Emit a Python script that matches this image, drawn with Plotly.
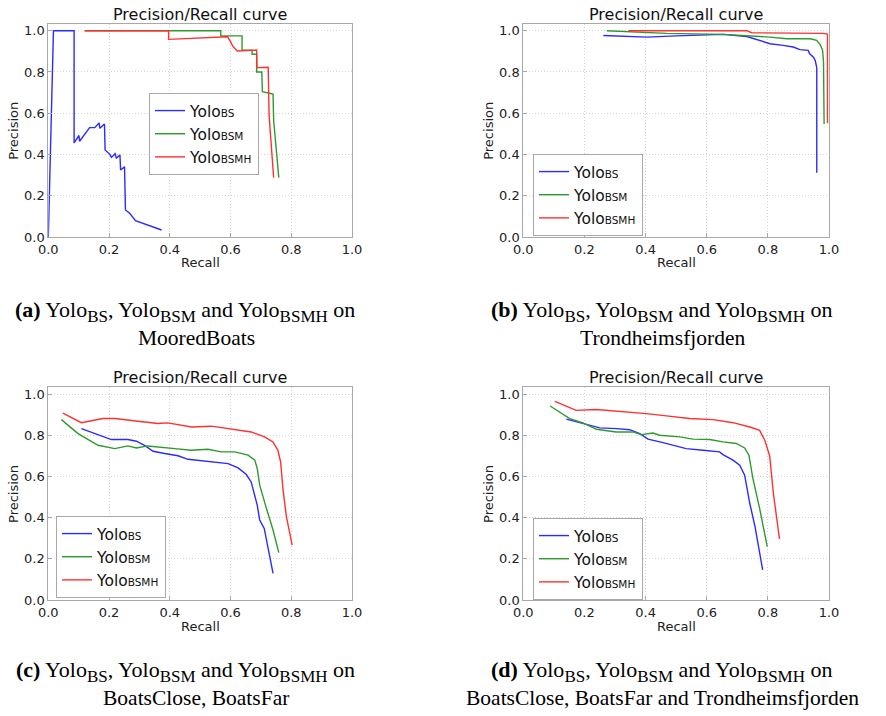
import plotly.graph_objects as go

# ---------------- data ----------------
series_names = ["BS", "BSM", "BSMH"]
colors = ["#2b2bff", "#2e9a2e", "#ff3030"]

# (a) MooredBoats
a_bs_r = [0.0, 0.017, 0.085, 0.085, 0.101, 0.103, 0.136, 0.153, 0.167, 0.170, 0.185, 0.187, 0.202, 0.208,
          0.220, 0.224, 0.236, 0.238, 0.251, 0.254, 0.268, 0.287, 0.373]
a_bs_p = [0.0, 1.0, 1.0, 0.456, 0.492, 0.464, 0.530, 0.530, 0.553, 0.527, 0.548, 0.422, 0.402, 0.386,
          0.404, 0.383, 0.397, 0.325, 0.340, 0.131, 0.115, 0.079, 0.034]
a_bsm_r = [0.12, 0.568, 0.568, 0.638, 0.638, 0.671, 0.671, 0.686, 0.686, 0.703, 0.705, 0.740, 0.742, 0.759]
a_bsm_p = [1.0, 1.0, 0.975, 0.975, 0.905, 0.905, 0.886, 0.886, 0.800, 0.800, 0.704, 0.693, 0.565, 0.288]
a_bsmh_r = [0.12, 0.396, 0.396, 0.590, 0.600, 0.607, 0.622, 0.686, 0.687, 0.724, 0.727, 0.742]
a_bsmh_p = [1.0, 1.0, 0.958, 0.971, 0.947, 0.926, 0.902, 0.906, 0.821, 0.823, 0.590, 0.287]

# (b) Trondheimsfjorden
b_bs_r = [0.262, 0.404, 0.500, 0.654, 0.731, 0.774, 0.807, 0.850, 0.883, 0.905, 0.932, 0.936, 0.949,
          0.955, 0.958, 0.960, 0.960]
b_bs_p = [0.977, 0.969, 0.975, 0.982, 0.972, 0.953, 0.937, 0.929, 0.921, 0.908, 0.905, 0.889, 0.872,
          0.855, 0.840, 0.820, 0.312]
b_bsm_r = [0.273, 0.400, 0.469, 0.654, 0.731, 0.807, 0.862, 0.938, 0.960, 0.972, 0.979, 0.982, 0.984]
b_bsm_p = [1.0, 0.993, 0.987, 0.982, 0.977, 0.969, 0.961, 0.961, 0.953, 0.930, 0.905, 0.850, 0.548]
b_bsmh_r = [0.344, 0.731, 0.747, 0.971, 0.981, 0.995, 0.995]
b_bsmh_p = [1.0, 1.0, 0.990, 0.990, 0.987, 0.984, 0.551]

# (c) BoatsClose, BoatsFar
c_bs_r = [0.109, 0.164, 0.208, 0.262, 0.290, 0.317, 0.345, 0.383, 0.427, 0.460, 0.493, 0.537, 0.592,
          0.625, 0.652, 0.668, 0.680, 0.688, 0.696, 0.711, 0.740]
c_bs_p = [0.833, 0.804, 0.780, 0.780, 0.772, 0.752, 0.723, 0.712, 0.701, 0.684, 0.679, 0.675, 0.663,
          0.642, 0.610, 0.574, 0.510, 0.461, 0.389, 0.348, 0.130]
c_bsm_r = [0.043, 0.098, 0.164, 0.219, 0.262, 0.290, 0.328, 0.361, 0.416, 0.471, 0.525, 0.570, 0.614,
           0.658, 0.680, 0.688, 0.696, 0.715, 0.740, 0.759]
c_bsm_p = [0.877, 0.809, 0.752, 0.736, 0.749, 0.739, 0.749, 0.743, 0.736, 0.728, 0.733, 0.720, 0.720,
           0.704, 0.680, 0.639, 0.558, 0.461, 0.340, 0.230]
c_bsmh_r = [0.048, 0.109, 0.180, 0.219, 0.295, 0.361, 0.394, 0.471, 0.537, 0.603, 0.668, 0.712, 0.740,
            0.756, 0.765, 0.773, 0.784, 0.803]
c_bsmh_p = [0.909, 0.862, 0.882, 0.882, 0.869, 0.858, 0.861, 0.841, 0.845, 0.830, 0.817, 0.793, 0.768,
            0.728, 0.671, 0.535, 0.405, 0.267]

# (d) BoatsClose, BoatsFar and Trondheimsfjorden
d_bs_r = [0.141, 0.195, 0.250, 0.304, 0.348, 0.381, 0.408, 0.457, 0.490, 0.533, 0.588, 0.642, 0.653,
          0.686, 0.708, 0.724, 0.741, 0.758, 0.783]
d_bs_p = [0.879, 0.858, 0.837, 0.833, 0.828, 0.809, 0.782, 0.765, 0.752, 0.736, 0.728, 0.720, 0.707,
          0.680, 0.655, 0.607, 0.469, 0.357, 0.146]
d_bsm_r = [0.088, 0.152, 0.195, 0.239, 0.304, 0.359, 0.386, 0.424, 0.446, 0.512, 0.555, 0.610, 0.653,
           0.697, 0.724, 0.738, 0.751, 0.773, 0.798]
d_bsm_p = [0.943, 0.882, 0.861, 0.830, 0.817, 0.817, 0.804, 0.812, 0.801, 0.793, 0.782, 0.780, 0.769,
           0.761, 0.739, 0.704, 0.591, 0.445, 0.259]
d_bsmh_r = [0.103, 0.173, 0.239, 0.326, 0.402, 0.468, 0.544, 0.621, 0.686, 0.741, 0.773, 0.790, 0.806,
            0.818, 0.838]
d_bsmh_p = [0.966, 0.922, 0.926, 0.917, 0.906, 0.895, 0.882, 0.877, 0.862, 0.841, 0.825, 0.777, 0.700,
            0.519, 0.297]

tick_vals = [0.0, 0.2, 0.4, 0.6, 0.8, 1.0]
tick_text = ["0.0", "0.2", "0.4", "0.6", "0.8", "1.0"]

panel_title = "Precision/Recall curve"
x_label = "Recall"
y_label = "Precision"

caption_letters = ["a", "b", "c", "d"]
caption_datasets = ["MooredBoats", "Trondheimsfjorden", "BoatsClose, BoatsFar",
                    "BoatsClose, BoatsFar and Trondheimsfjorden"]

panels = [
    [(a_bs_r, a_bs_p), (a_bsm_r, a_bsm_p), (a_bsmh_r, a_bsmh_p)],
    [(b_bs_r, b_bs_p), (b_bsm_r, b_bsm_p), (b_bsmh_r, b_bsmh_p)],
    [(c_bs_r, c_bs_p), (c_bsm_r, c_bsm_p), (c_bsmh_r, c_bsmh_p)],
    [(d_bs_r, d_bs_p), (d_bsm_r, d_bsm_p), (d_bsmh_r, d_bsmh_p)],
]

# ---------------- layout geometry (pixels) ----------------
W, H = 886, 716
frames = [(48.3, 352.0, 24.0, 237.0), (523.3, 829.0, 24.0, 237.0),
          (48.3, 352.0, 387.3, 600.0), (523.3, 829.0, 387.3, 600.0)]
y_one_px = [30.7, 30.7, 394.3, 394.3]
legend_pos = [(149, 93), (533, 154), (56, 516), (533, 518)]
caption_centers = [(185, 196), (662, 662), (185, 196), (662, 662)]
caption_y = [(311, 338), (311, 338), (671, 698), (671, 698)]

fig = go.Figure()
font_main = "DejaVu Sans"
annotations = []

axis_common = dict(tickvals=tick_vals, ticktext=tick_text, showline=True, mirror=True,
                   linecolor="#a8a8a8", linewidth=1, showgrid=True, gridcolor="#d4d4d4",
                   griddash="1px,2px", gridwidth=1, zeroline=False, ticks="inside", ticklen=4,
                   tickcolor="#a8a8a8", automargin=False,
                   tickfont=dict(family=font_main, size=13, color="#222"))

for i, panel in enumerate(panels):
    sfx = "" if i == 0 else str(i + 1)
    leg = "legend" if i == 0 else "legend" + str(i + 1)
    for j, (r, p) in enumerate(panel):
        fig.add_trace(go.Scatter(
            x=r, y=p, mode="lines",
            name="Yolo<span style='font-size:10.5px'>" + series_names[j] + "</span>",
            line=dict(color=colors[j], width=1.4),
            xaxis="x" + sfx, yaxis="y" + sfx, legend=leg,
        ))
    L, R, T, B = frames[i]
    ytop = (B - T) / (B - y_one_px[i])
    xa = dict(domain=[L / W, R / W], range=[0, 1], anchor="y" + sfx, **axis_common)
    ya = dict(domain=[1 - B / H, 1 - T / H], range=[0, ytop], anchor="x" + sfx, **axis_common)
    fig.update_layout({"xaxis" + sfx: xa, "yaxis" + sfx: ya})

    lx, ly = legend_pos[i]
    fig.update_layout({leg: dict(x=lx / W, y=1 - ly / H, xanchor="left", yanchor="top",
                                 bgcolor="white", bordercolor="#a8a8a8", borderwidth=1,
                                 font=dict(family=font_main, size=15.5, color="#111"),
                                 tracegroupgap=0)})

    cx = (L + R) / 2
    annotations.append(dict(text=panel_title, x=cx / W, y=1 - (15 if i < 2 else 377) / H,
                            xref="paper", yref="paper", showarrow=False,
                            font=dict(family=font_main, size=16, color="#111"),
                            xanchor="center", yanchor="middle"))
    annotations.append(dict(text=x_label, x=cx / W, y=1 - (B + 26) / H,
                            xref="paper", yref="paper", showarrow=False,
                            font=dict(family=font_main, size=13, color="#222"),
                            xanchor="center", yanchor="middle"))
    annotations.append(dict(text=y_label, x=(L - 35) / W, y=1 - ((T + B) / 2) / H,
                            xref="paper", yref="paper", showarrow=False, textangle=-90,
                            font=dict(family=font_main, size=13, color="#222"),
                            xanchor="center", yanchor="middle"))
    c1, c2 = caption_centers[i]
    y1, y2 = caption_y[i]
    sub = "<sub><span style='font-size:17px'>{}</span></sub>"
    line1 = ("<b>(" + caption_letters[i] + ")</b> Yolo" + sub.format("BS") + ", Yolo" + sub.format("BSM")
             + " and Yolo" + sub.format("BSMH") + " on")
    annotations.append(dict(text=line1, x=c1 / W, y=1 - y1 / H, xref="paper", yref="paper",
                            showarrow=False, xanchor="center", yanchor="middle",
                            font=dict(family="Liberation Serif", size=22, color="#000")))
    annotations.append(dict(text=caption_datasets[i], x=c2 / W, y=1 - y2 / H, xref="paper",
                            yref="paper", showarrow=False, xanchor="center", yanchor="middle",
                            font=dict(family="Liberation Serif", size=21.5, color="#000")))

fig.update_layout(width=W, height=H, margin=dict(l=0, r=0, t=0, b=0, autoexpand=False),
                  paper_bgcolor="white", plot_bgcolor="white",
                  annotations=annotations)

fig.write_html("out.html")
